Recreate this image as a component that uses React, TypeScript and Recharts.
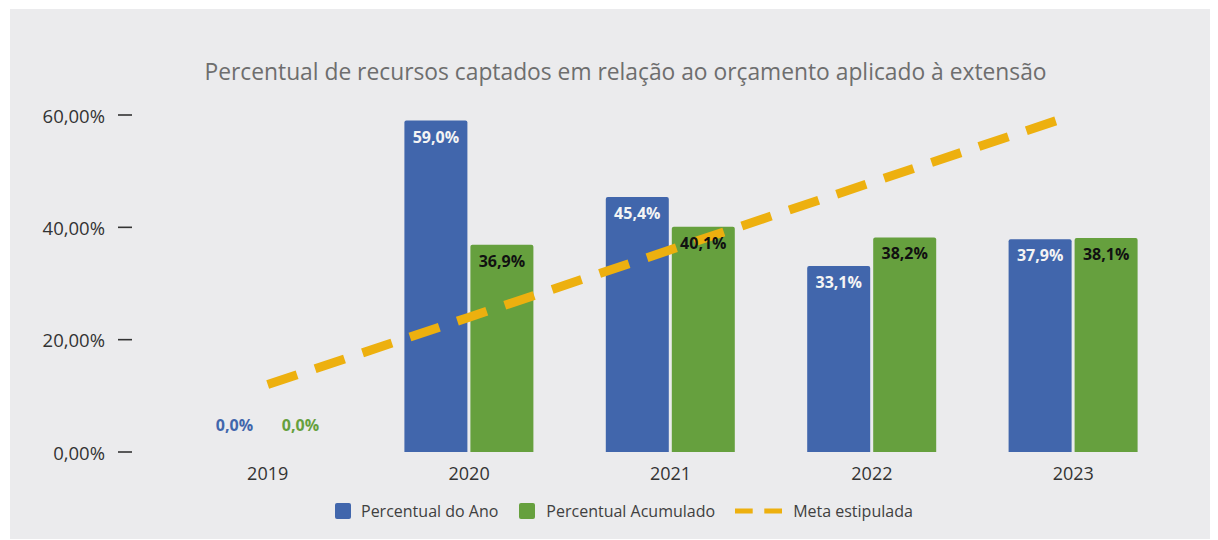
import React from 'react';
import { ComposedChart, Bar, Line, XAxis, YAxis, LabelList } from 'recharts';

// Dados
const years = ['2019', '2020', '2021', '2022', '2023'];
const percentualAno = [0, 59.0, 45.4, 33.1, 37.9];
const percentualAcumulado = [0, 36.9, 40.1, 38.2, 38.1];
const metaEstipulada = [12, 24, 36, 48, 60];
const yTicks = [0, 20, 40, 60];

const BLUE = '#4166AC';
const GREEN = '#66A03E';
const GOLD = '#EDB00F';
const FONT = '"Open Sans", sans-serif';

const data = years.map((year, i) => ({
  year,
  ano: percentualAno[i],
  acumulado: percentualAcumulado[i],
  meta: metaEstipulada[i],
}));

const fmtPct = (v: number) => v.toFixed(1).replace('.', ',') + '%';
const fmtTick = (v: number) => v.toFixed(2).replace('.', ',') + '%';

// barras de valor zero ficam com altura quase nula para manter o rótulo
const zeroSafe = (v: any) => (Number(v) === 0 ? 0.01 : 0);

function YTick({ x, y, payload }: any) {
  return (
    <g>
      <text x={x - 54} y={y} textAnchor="end" dominantBaseline="central" fontSize={18.5} fill="#333" fontFamily={FONT}>
        {fmtTick(payload.value)}
      </text>
      <line x1={x - 41} x2={x - 27} y1={y} y2={y} stroke="#333" strokeWidth={1.6} />
    </g>
  );
}

function XTick({ x, y, payload }: any) {
  return (
    <text x={x} y={y + 20} textAnchor="middle" fontSize={18} fill="#333" fontFamily={FONT}>
      {payload.value}
    </text>
  );
}

function barLabel(textColor: string, zeroColor: string) {
  return (props: any) => {
    const { x, y, width, value } = props;
    const v = Number(value);
    const cx = Number(x) + Number(width) / 2;
    const isZero = v === 0;
    return (
      <text
        x={cx}
        y={isZero ? Number(y) - 27 : Number(y) + 16}
        textAnchor="middle"
        dominantBaseline="central"
        fontSize={16}
        fontWeight={700}
        fill={isZero ? zeroColor : textColor}
        fontFamily={FONT}
      >
        {fmtPct(v)}
      </text>
    );
  };
}

export default function App() {
  return (
    <div style={{ position: 'relative', width: 1207, height: 530, marginLeft: 2, marginTop: 1, backgroundColor: '#EBEBED', fontFamily: FONT }}>
      <div style={{ position: 'absolute', left: 0, right: 0, top: 47, textAlign: 'center', fontSize: 22.8, color: '#6E6E6E', paddingLeft: 24 }}>
        Percentual de recursos captados em relação ao orçamento aplicado à extensão
      </div>

      <ComposedChart width={1207} height={530} data={data} margin={{ top: 106, right: 43, left: 0, bottom: 0 }} barCategoryGap={36} barGap={3}>
        <XAxis dataKey="year" height={87} axisLine={false} tickLine={false} tick={<XTick />} interval={0} />
        <XAxis xAxisId="rotulos" dataKey="year" hide />
        <YAxis width={157} domain={[0, 60]} ticks={yTicks} axisLine={false} tickLine={false} tick={<YTick />} interval={0} />
        <Bar dataKey="ano" fill={BLUE} radius={[2, 2, 0, 0]} isAnimationActive={false} />
        <Bar dataKey="acumulado" fill={GREEN} radius={[2, 2, 0, 0]} isAnimationActive={false} />
        <Line dataKey="meta" type="linear" stroke={GOLD} strokeWidth={9} strokeDasharray="31 19" dot={false} activeDot={false} isAnimationActive={false} />
        {/* rótulos desenhados por cima da linha da meta */}
        <Bar xAxisId="rotulos" dataKey="ano" fill="transparent" minPointSize={zeroSafe} isAnimationActive={false}>
          <LabelList dataKey="ano" content={barLabel('#F4F4F4', BLUE)} />
        </Bar>
        <Bar xAxisId="rotulos" dataKey="acumulado" fill="transparent" minPointSize={zeroSafe} isAnimationActive={false}>
          <LabelList dataKey="acumulado" content={barLabel('#111', GREEN)} />
        </Bar>
      </ComposedChart>

      {/* Legenda */}
      <div style={{ position: 'absolute', left: 325, top: 491, display: 'flex', alignItems: 'center', fontSize: 16, lineHeight: '22px', color: '#404040' }}>
        <LegendSwatch color={BLUE} />
        <span style={{ marginLeft: 10, marginRight: 21 }}>Percentual do Ano</span>
        <LegendSwatch color={GREEN} />
        <span style={{ marginLeft: 11, marginRight: 20 }}>Percentual Acumulado</span>
        <svg width={47} height={8}>
          <line x1={0} x2={47} y1={4} y2={4} stroke={GOLD} strokeWidth={5} strokeDasharray="17.7 11.6" />
        </svg>
        <span style={{ marginLeft: 11 }}>Meta estipulada</span>
      </div>
    </div>
  );
}

function LegendSwatch({ color }: { color: string }) {
  return <div style={{ width: 16, height: 16, backgroundColor: color, borderRadius: 2 }} />;
}
